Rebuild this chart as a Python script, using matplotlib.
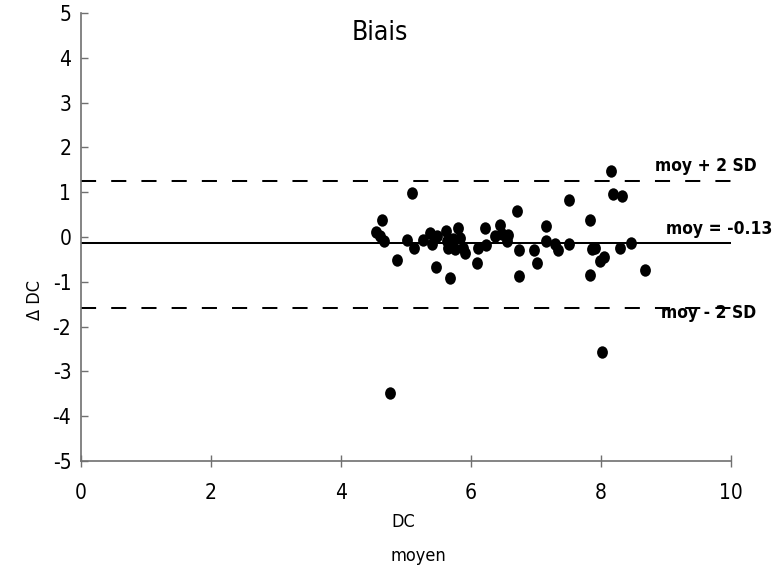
import matplotlib
matplotlib.use('Agg')
import matplotlib.pyplot as plt
from matplotlib.path import Path
from matplotlib.transforms import Affine2D

# Data
mean_dc = [4.54, 4.60, 4.66, 4.63, 4.86, 5.09, 5.02, 5.13, 5.26, 5.37,
           5.40, 5.46, 5.48, 5.62, 5.63, 5.65, 5.67, 5.72, 5.75, 5.80,
           5.83, 5.87, 5.91, 6.09, 6.10, 6.22, 6.23, 6.37, 6.45, 6.48,
           6.57, 6.55, 6.71, 6.74, 6.74, 6.97, 7.01, 7.15, 7.15, 7.29,
           7.34, 7.50, 7.50, 7.83, 7.86, 7.91, 7.83, 7.98, 8.04, 8.01,
           8.15, 8.19, 8.33, 8.29, 8.46, 8.68, 4.75]
delta_dc = [0.11, 0.02, -0.09, 0.37, -0.52, 0.98, -0.07, -0.24, -0.07, 0.10,
            -0.16, -0.68, 0.03, 0.14, -0.09, -0.24, -0.92, -0.04, -0.27, 0.20,
            -0.03, -0.24, -0.35, -0.57, -0.24, 0.19, -0.18, 0.02, 0.27, 0.06,
            0.04, -0.10, 0.58, -0.30, -0.86, -0.29, -0.57, 0.25, -0.10, -0.16,
            -0.30, 0.82, -0.16, 0.37, -0.27, -0.24, -0.85, -0.54, -0.45, -2.57,
            1.47, 0.97, 0.92, -0.24, -0.13, -0.74, -3.48]
bias_mean = -0.13
upper_loa = 1.25
lower_loa = -1.58
x_ticks = [0, 2, 4, 6, 8, 10]
y_ticks = [-5, -4, -3, -2, -1, 0, 1, 2, 3, 4, 5]
title = "Biais"
label_upper = "moy + 2 SD"
label_mean = "moy = -0.13"
label_lower = "moy - 2 SD"

fam = ['DejaVu Sans']
cond = 'condensed'

fig = plt.figure(figsize=(7.83, 5.75), dpi=100)
ax = fig.add_axes([81/783, 1 - 461/575, 650/783, 448/575])

ellipse = Path.unit_circle().transformed(Affine2D().scale(0.87, 1.0))
ax.scatter(mean_dc, delta_dc, s=80, marker=ellipse, color='black', zorder=3,
           linewidths=0)

ax.axhline(bias_mean, color='black', lw=1.45, zorder=2)
ax.axhline(upper_loa, color='black', lw=1.45, dashes=(7.5, 7.5), zorder=2)
ax.axhline(lower_loa, color='black', lw=1.45, dashes=(7.5, 7.5), zorder=2)

ax.set_xlim(0, 10)
ax.set_ylim(-5, 5)
ax.set_xticks(x_ticks)
ax.set_yticks(y_ticks)
ax.set_xticklabels([str(v) for v in x_ticks], family=fam, stretch=cond, fontsize=15)
ax.set_yticklabels([str(v) for v in y_ticks], family=fam, stretch=cond, fontsize=15)
ax.tick_params(axis='y', direction='in', length=5, width=1, color='#707070', pad=7)
ax.tick_params(axis='x', direction='inout', length=8, width=1, color='#707070', pad=12)
for s in ['top', 'right']:
    ax.spines[s].set_visible(False)
for s in ['left', 'bottom']:
    ax.spines[s].set_color('#707070')
    ax.spines[s].set_linewidth(1.2)

txt_kw = dict(family=fam, stretch=cond, fontsize=12.5, fontweight='bold',
              va='center', ha='left', clip_on=False, zorder=4)
ax.text(8.83, 1.58, label_upper, **txt_kw)
ax.text(9.0, 0.18, label_mean, **txt_kw)
ax.text(8.92, -1.70, label_lower, **txt_kw)

fig.text(380/783, 1 - 33/575, title, family=fam, stretch=cond, fontsize=19,
         ha='center', va='center')
fig.text(391/783, 1 - 522/575, "DC", family=fam, stretch=cond, fontsize=13,
         ha='left', va='center')
fig.text(391/783, 1 - 556/575, "moyen", family=fam, stretch=cond, fontsize=13,
         ha='left', va='center')
fig.text(35/783, 1 - 300/575, "Δ DC", family=fam, stretch=cond, fontsize=13,
         rotation=90, ha='center', va='center')

fig.savefig('out.png', dpi=100)
